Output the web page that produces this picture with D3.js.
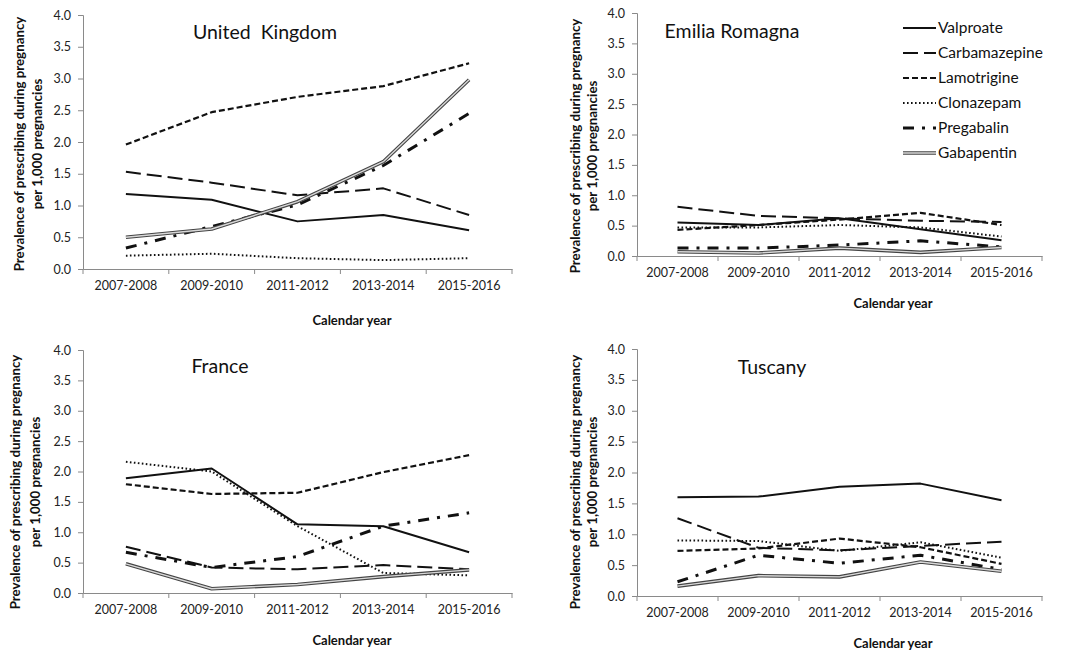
<!DOCTYPE html>
<html><head><meta charset="utf-8">
<script src="https://cdn.jsdelivr.net/npm/d3@7"></script>
<style>
html,body{margin:0;padding:0;background:#fff;}
svg{display:block;font-family:Lato,"Open Sans",sans-serif;}
</style></head>
<body><svg id="c" width="1067" height="652"></svg>
<script>
const categories = ["2007-2008","2009-2010","2011-2012","2013-2014","2015-2016"];
const drugs = ["Valproate","Carbamazepine","Lamotrigine","Clonazepam","Pregabalin","Gabapentin"];
const yTicks = [0,0.5,1,1.5,2,2.5,3,3.5,4];

const ukValproate     = [1.18,1.09,0.75,0.85,0.61];
const ukCarbamazepine = [1.53,1.36,1.16,1.27,0.85];
const ukLamotrigine   = [1.96,2.47,2.71,2.88,3.24];
const ukClonazepam    = [0.21,0.24,0.17,0.14,0.17];
const ukPregabalin    = [0.33,0.67,1.01,1.63,2.45];
const ukGabapentin    = [0.50,0.63,1.06,1.69,2.98];

const erValproate     = [0.55,0.51,0.62,0.44,0.26];
const erCarbamazepine = [0.81,0.66,0.62,0.58,0.56];
const erLamotrigine   = [0.43,0.51,0.60,0.71,0.51];
const erClonazepam    = [0.47,0.47,0.51,0.47,0.32];
const erPregabalin    = [0.13,0.13,0.18,0.25,0.15];
const erGabapentin    = [0.07,0.05,0.13,0.06,0.14];

const frValproate     = [1.89,2.05,1.13,1.10,0.67];
const frCarbamazepine = [0.76,0.42,0.39,0.46,0.39];
const frLamotrigine   = [1.79,1.63,1.65,1.99,2.27];
const frClonazepam    = [2.16,2.00,1.10,0.33,0.29];
const frPregabalin    = [0.67,0.42,0.60,1.10,1.32];
const frGabapentin    = [0.48,0.07,0.14,0.27,0.38];

const tuValproate     = [1.60,1.61,1.77,1.82,1.55];
const tuCarbamazepine = [1.26,0.78,0.74,0.81,0.88];
const tuLamotrigine   = [0.73,0.77,0.93,0.79,0.52];
const tuClonazepam    = [0.90,0.89,0.73,0.87,0.62];
const tuPregabalin    = [0.23,0.66,0.53,0.66,0.43];
const tuGabapentin    = [0.16,0.33,0.31,0.55,0.40];

const styles = {
  Valproate:     {w:2,   dash:null,        color:"#111"},
  Carbamazepine: {w:2,   dash:"15,6",      color:"#111"},
  Lamotrigine:   {w:2.2, dash:"6,3",       color:"#111"},
  Clonazepam:    {w:2,   dash:"1.6,2.4",   color:"#111"},
  Pregabalin:    {w:3,   dash:"11,8,3,8",  color:"#111"},
  Gabapentin:    {w:3.6, dash:null,        color:"#444", inner:"#d8d8d8", innerW:1.4}
};

const panels = [
  {title:"United  Kingdom", tx:265, ty:39, x0:83, x1:512, yT:15, yB:269, lx:[19,37], ly:144, cx:352, cy:325,
   data:[ukValproate,ukCarbamazepine,ukLamotrigine,ukClonazepam,ukPregabalin,ukGabapentin]},
  {title:"Emilia Romagna", tx:732, ty:38, x0:637, x1:1042, yT:13, yB:256, lx:[575,592], ly:146, cx:893, cy:308,
   data:[erValproate,erCarbamazepine,erLamotrigine,erClonazepam,erPregabalin,erGabapentin]},
  {title:"France", tx:220, ty:373, x0:83, x1:512, yT:350, yB:593, lx:[15,35], ly:482, cx:352, cy:645,
   data:[frValproate,frCarbamazepine,frLamotrigine,frClonazepam,frPregabalin,frGabapentin]},
  {title:"Tuscany", tx:772, ty:374, x0:637, x1:1042, yT:349, yB:596, lx:[575,592], ly:482, cx:893, cy:648,
   data:[tuValproate,tuCarbamazepine,tuLamotrigine,tuClonazepam,tuPregabalin,tuGabapentin]}
];

const svg = d3.select("#c");
const axisColor = "#8a8a8a";

function drawLine(g, pts, st){
  const path = d3.line().x(d=>d[0]).y(d=>d[1]);
  const p = g.append("path").attr("d", path(pts)).attr("fill","none")
    .attr("stroke", st.color).attr("stroke-width", st.w).attr("stroke-linejoin","round");
  if (st.dash) p.attr("stroke-dasharray", st.dash);
  if (st.inner) g.append("path").attr("d", path(pts)).attr("fill","none")
    .attr("stroke", st.inner).attr("stroke-width", st.innerW).attr("stroke-linejoin","round");
}

panels.forEach(p=>{
  const g = svg.append("g");
  const x = d3.scaleBand().domain(categories).range([p.x0,p.x1]).padding(0);
  const y = d3.scaleLinear().domain([0,4]).range([p.yB,p.yT]);

  // y axis
  const ya = g.append("g").attr("transform",`translate(${p.x0},0)`)
    .call(d3.axisLeft(y).tickValues(yTicks).tickFormat(d3.format(".1f")).tickSize(5).tickPadding(7));
  ya.select(".domain").attr("stroke",axisColor);
  ya.selectAll(".tick line").attr("stroke",axisColor);
  ya.selectAll("text").attr("font-size",12.5).attr("fill","#222").attr("font-family","Lato");

  // x axis
  const xa = g.append("g").attr("transform",`translate(0,${p.yB})`)
    .call(d3.axisBottom(x).tickSize(0).tickPadding(12).tickSizeOuter(0));
  xa.select(".domain").attr("stroke",axisColor);
  xa.selectAll("text").attr("font-size",12.5).attr("fill","#222").attr("font-family","Lato");
  const bounds = categories.map(c=>x(c)).concat([x.range()[1]]);
  g.selectAll(".bt").data(bounds).enter().append("line")
    .attr("x1",d=>d).attr("x2",d=>d).attr("y1",p.yB).attr("y2",p.yB+5)
    .attr("stroke",axisColor);

  // series
  p.data.forEach((vals,i)=>{
    const st = styles[drugs[i]];
    const pts = vals.map((v,j)=>[x(categories[j])+x.bandwidth()/2, y(v)]);
    drawLine(g, pts, st);
  });

  // title
  g.append("text").attr("x",p.tx).attr("y",p.ty).attr("text-anchor","middle")
    .style("white-space","pre")
    .attr("font-size",19.5).attr("fill","#111").text(p.title);

  // y label
  g.append("text").attr("transform",`translate(${p.lx[0]},${p.ly}) rotate(-90)`)
    .attr("text-anchor","middle").attr("dy","0.35em").attr("font-size",13.3).attr("font-weight","bold").attr("fill","#111")
    .text("Prevalence of prescribing during pregnancy");
  g.append("text").attr("transform",`translate(${p.lx[1]},${p.ly}) rotate(-90)`)
    .attr("text-anchor","middle").attr("dy","0.35em").attr("font-size",13.3).attr("font-weight","bold").attr("fill","#111")
    .text("per 1,000 pregnancies");

  // x label
  g.append("text").attr("x",p.cx).attr("y",p.cy).attr("text-anchor","middle")
    .attr("font-size",13).attr("font-weight","bold").attr("fill","#111").text("Calendar year");
});

// legend
const leg = svg.append("g");
const legY = d3.scalePoint().domain(drugs).range([28,153]);
drugs.forEach(d=>{
  const yy = legY(d);
  drawLine(leg, [[903,yy],[936,yy]], styles[d]);
  leg.append("text").attr("x",938).attr("y",yy).attr("dy","0.35em").attr("font-size",15.5)
    .attr("fill","#111").text(d);
});
</script></body></html>
